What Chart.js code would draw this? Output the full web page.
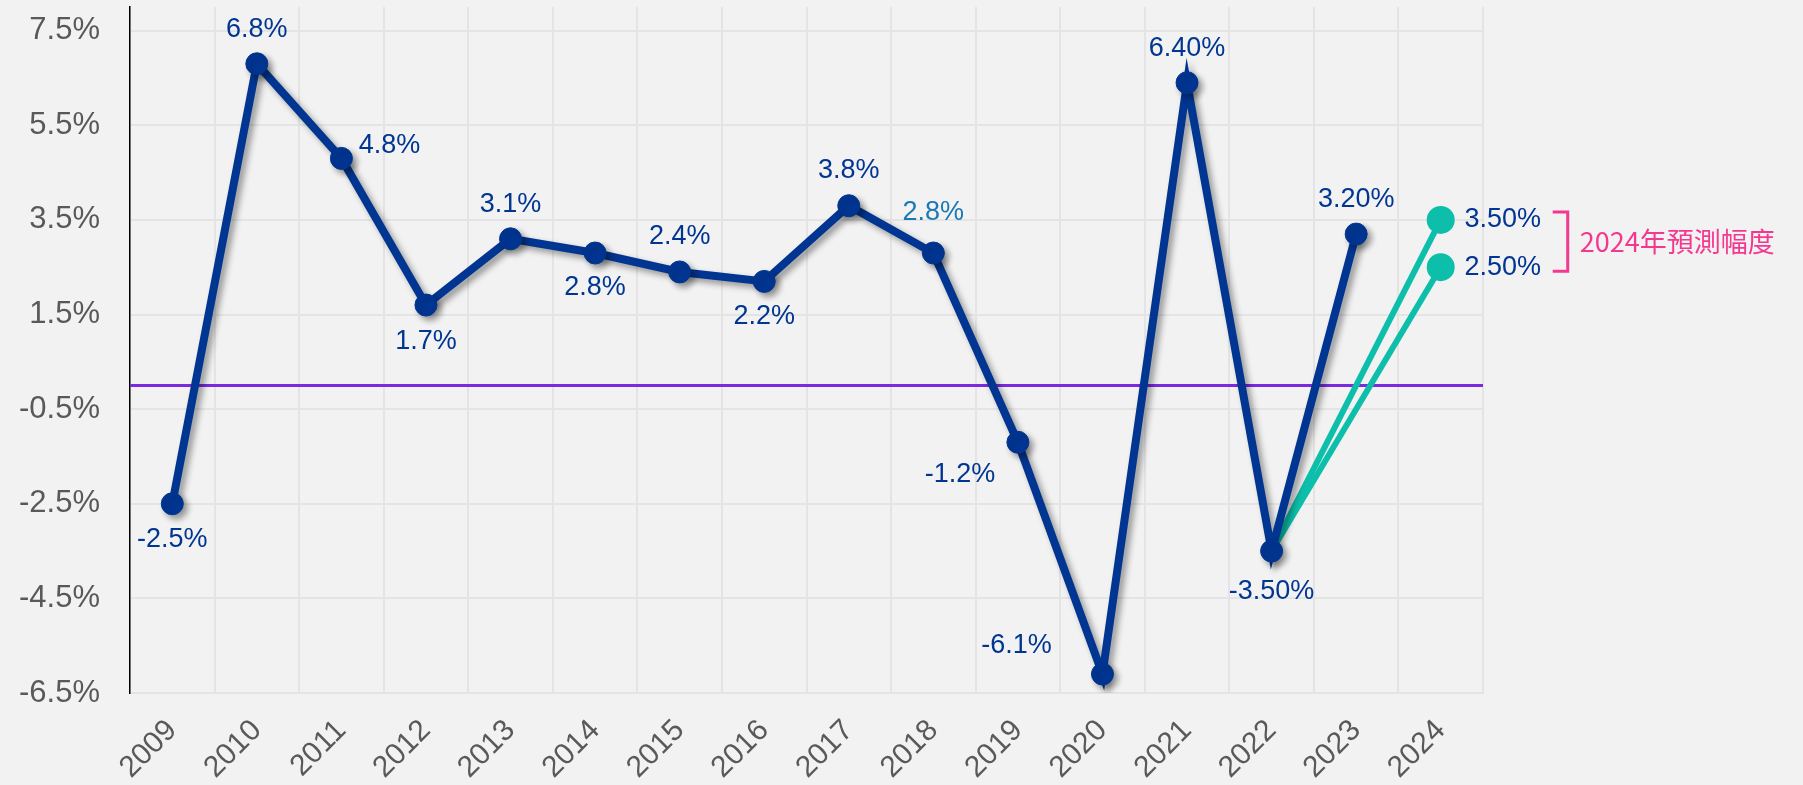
<!DOCTYPE html>
<html><head><meta charset="utf-8">
<script src="https://cdn.jsdelivr.net/npm/chart.js@4.4.1/dist/chart.umd.min.js"></script>
<style>html,body{margin:0;padding:0;background:#F2F2F2;}#wrap{width:1803px;height:785px;}</style>
</head><body><div id="wrap"><canvas id="c" width="1803" height="785"></canvas></div>
<script>
const categories = ['2009','2010','2011','2012','2013','2014','2015','2016','2017','2018','2019','2020','2021','2022','2023','2024'];
const gdpGrowth = [-2.5, 6.8, 4.8, 1.7, 3.1, 2.8, 2.4, 2.2, 3.8, 2.8, -1.2, -6.1, 6.4, -3.5, 3.2, null];
const gdpLabels = ['-2.5%','6.8%','4.8%','1.7%','3.1%','2.8%','2.4%','2.2%','3.8%','2.8%','-1.2%','-6.1%','6.40%','-3.50%','3.20%',''];
const forecastFrom = '2022';
const forecastYear = '2024';
const forecastHigh = 3.5;
const forecastLow = 2.5;
const forecastLabels = ['3.50%', '2.50%'];
const forecastNote = '2024年預測幅度';
const yTicks = [-6.5, -4.5, -2.5, -0.5, 1.5, 3.5, 5.5, 7.5];
const referenceValue = 0;

// label placement (offsets from point centre, px)
const labelOffsets = [[0,36],[0,-34],[48,-13],[0,36],[0,-34],[0,35],[0,-35],[0,35],[0,-35],[0,-40],[-58,32],[-86,-29],[0,-34],[0,40],[0,-35],[0,0]];

const DARK = '#003591';
const TEAL = '#0DBFAA';
const PINK = '#F5388F';
const LABEL_FONT = '27px "Liberation Sans", Arial, sans-serif';

function forecastData(target) {
  return categories.map((c, i) => c === forecastFrom ? gdpGrowth[i] : (c === forecastYear ? target : null));
}

const shadowPlugin = {
  id: 'shadow',
  beforeDatasetDraw(chart, args) {
    if (args.index === 0) {
      const ctx = chart.ctx; ctx.save();
      ctx.shadowColor = 'rgba(0,0,0,0.38)';
      ctx.shadowBlur = 6; ctx.shadowOffsetX = 4; ctx.shadowOffsetY = 4;
    }
  },
  afterDatasetDraw(chart, args) {
    if (args.index === 0) chart.ctx.restore();
  }
};

const refLinePlugin = {
  id: 'refLine',
  beforeDatasetsDraw(chart) {
    const ctx = chart.ctx, a = chart.chartArea, y = chart.scales.y.getPixelForValue(referenceValue);
    ctx.save();
    ctx.strokeStyle = '#7B2AE0'; ctx.lineWidth = 3;
    ctx.beginPath(); ctx.moveTo(a.left, y); ctx.lineTo(a.right, y); ctx.stroke();
    ctx.restore();
  }
};

const labelPlugin = {
  id: 'valueLabels',
  afterDatasetsDraw(chart) {
    const ctx = chart.ctx;
    ctx.save();
    ctx.font = LABEL_FONT; ctx.textAlign = 'center'; ctx.textBaseline = 'middle';
    const meta = chart.getDatasetMeta(0);
    meta.data.forEach((el, i) => {
      if (gdpGrowth[i] === null) return;
      const off = labelOffsets[i];
      ctx.fillStyle = i === 9 ? '#1A78B4' : DARK;
      ctx.fillText(gdpLabels[i], el.x + off[0], el.y + off[1]);
    });
    const last = categories.indexOf(forecastYear);
    const pts = [chart.getDatasetMeta(1).data[last], chart.getDatasetMeta(2).data[last]];
    ctx.fillStyle = DARK;
    pts.forEach((el, k) => ctx.fillText(forecastLabels[k], el.x + 62, el.y));
    // bracket + note
    const x0 = pts[0].x + 112, x1 = pts[0].x + 127;
    const yTop = pts[0].y - 8, yBot = pts[1].y + 4;
    ctx.strokeStyle = PINK; ctx.lineWidth = 3;
    ctx.beginPath(); ctx.moveTo(x0, yTop); ctx.lineTo(x1, yTop); ctx.lineTo(x1, yBot); ctx.lineTo(x0, yBot); ctx.stroke();
    ctx.fillStyle = PINK; ctx.textAlign = 'left';
    ctx.font = '27px "Noto Sans CJK TC", "Noto Sans", sans-serif';
    ctx.fillText(forecastNote, x1 + 12, (yTop + yBot) / 2);
    ctx.restore();
  }
};

new Chart(document.getElementById('c'), {
  type: 'line',
  data: {
    labels: categories,
    datasets: [
      {
        data: gdpGrowth, borderColor: DARK, backgroundColor: DARK, borderWidth: 8,
        pointRadius: 11, pointBorderWidth: 1, pointBorderColor: DARK, pointBackgroundColor: DARK,
        pointHoverRadius: 11, tension: 0, spanGaps: false, borderJoinStyle: 'miter'
      },
      {
        data: forecastData(forecastHigh), borderColor: TEAL, backgroundColor: TEAL, borderWidth: 6,
        pointRadius: ctx => categories[ctx.dataIndex] === forecastYear ? 11 : 0,
        pointBackgroundColor: TEAL, pointBorderColor: TEAL, spanGaps: true, tension: 0
      },
      {
        data: forecastData(forecastLow), borderColor: TEAL, backgroundColor: TEAL, borderWidth: 6,
        pointRadius: ctx => categories[ctx.dataIndex] === forecastYear ? 11 : 0,
        pointBackgroundColor: TEAL, pointBorderColor: TEAL, spanGaps: true, tension: 0
      }
    ]
  },
  options: {
    responsive: false, devicePixelRatio: 1, animation: false,
    layout: { autoPadding: false, padding: { top: 7, right: 320, left: 0, bottom: 0 } },
    plugins: { legend: { display: false }, tooltip: { enabled: false } },
    scales: {
      x: {
        offset: true,
        grid: { offset: true, color: '#E4E4E4', lineWidth: 2, drawTicks: false },
        border: { color: '#E4E4E4', width: 2 },
        ticks: { color: '#595959', font: { size: 30, family: '"Liberation Sans", Arial, sans-serif' },
                 minRotation: 45, maxRotation: 45, autoSkip: false, padding: 20 },
        afterFit(scale) { scale.height = 92; scale.paddingLeft = 0; scale.paddingRight = 0; }
      },
      y: {
        min: -6.5, max: 8.0,
        grid: { color: '#E4E4E4', lineWidth: 2, drawTicks: false },
        border: { color: '#000000', width: 1.5 },
        afterBuildTicks(scale) { scale.ticks = yTicks.map(v => ({ value: v })); },
        ticks: { color: '#595959', font: { size: 31, family: '"Liberation Sans", Arial, sans-serif' },
                 padding: 30, callback: v => v.toFixed(1) + '%' },
        afterFit(scale) { scale.width = 130; scale.paddingTop = 0; scale.paddingBottom = 0; }
      }
    }
  },
  plugins: [shadowPlugin, refLinePlugin, labelPlugin]
});
</script>
</body></html>
